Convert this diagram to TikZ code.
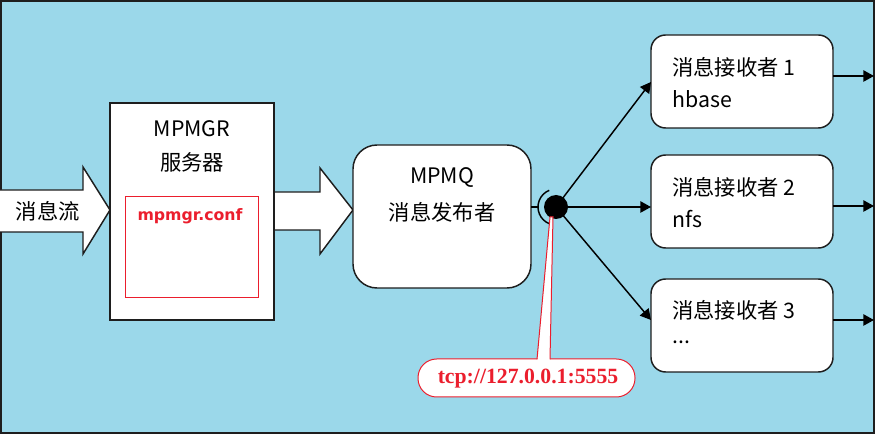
\documentclass[tikz,border=0pt]{standalone}
\usepackage{fontspec}
\setmainfont{Noto Sans CJK SC}
\newfontfamily\serifbold{Liberation Serif}
\newfontfamily\sansbold{DejaVu Sans}
\usetikzlibrary{arrows.meta,calc}
\definecolor{bg}{RGB}{155,216,234}
\definecolor{rd}{RGB}{235,30,45}
\definecolor{edge}{RGB}{30,30,30}
\begin{document}
\begin{tikzpicture}[x=0.75pt,y=-0.75pt,
  ol/.style={draw=edge,line width=1.1pt,fill=white},
  plainbox/.style={ol,inner sep=0pt,outer sep=0pt},
  rbox/.style={plainbox,rounded corners=11pt,minimum width=136.5pt,minimum height=69.75pt},
  txt/.style={font=\fontsize{16}{19}\selectfont,inner sep=0pt},
  conn/.style={draw=black,line width=1.1pt,-{Triangle[length=8pt,width=8.5pt]}},
]
\useasboundingbox (0,0) rectangle (875,434);
\fill[bg] (0,0) rectangle (875,434);
\draw[edge,line width=1.5pt] (1,1) rectangle (874,433);

% block arrows
\draw[ol,line join=miter] (-2,190) -- (83,190) -- (83,167) -- (110,210) -- (83,254) -- (83,232) -- (-2,232) -- cycle;
\node[txt] (flow) at (48,211) {消息流};
\draw[ol,line join=miter] (274,192) -- (320,192) -- (320,168) -- (353,210) -- (320,254) -- (320,230) -- (274,230);

% MPMGR
\node[plainbox,minimum width=123pt,minimum height=162.75pt] (mpmgr) at (192,211.5) {};
\node[txt] (mpmgrt) at (192,129) {MPMGR};
\node[txt] (mpmgrc) at (192,162) {服务器};
\node[draw=rd,line width=0.75pt,inner sep=0pt,minimum width=99.75pt,minimum height=75.75pt] (conf) at (191.5,247.5) {};
\node[inner sep=0pt,text=rd,font=\sansbold\bfseries\fontsize{11.8}{14}\selectfont] (conft) at (190,216) {mpmgr.conf};

% MPMQ
\node[plainbox,rounded corners=18pt,minimum width=133.5pt,minimum height=107.25pt] (mpmq) at (442,216.5) {};
\node[txt] (mpmqt) at (442,178) {MPMQ};
\node[txt] (mpmqc) at (442,212) {消息发布者};

% socket
\coordinate (sock) at (538,207);
\draw[line width=1.1pt] (mpmq.east |- sock) -- (sock);
\draw[line width=1.1pt] (556,207) ++(112:18) arc (112:248:18);

% receivers
\node[rbox] (r1) at (742,81.5) {};
\node[rbox] (r2) at (742,201.5) {};
\node[rbox] (r3) at (742,325.5) {};
\node[txt,anchor=west] (r1a) at (672,67) {消息接收者 1};
\node[txt,anchor=west] (r1b) at (672,99) {hbase};
\node[txt,anchor=west] (r2a) at (672,187) {消息接收者 2};
\node[txt,anchor=west] (r2b) at (672,219) {nfs};
\node[txt,anchor=west] (r3a) at (672,310) {消息接收者 3};
\node[txt,anchor=west] (r3b) at (672,342) {...};

\coordinate (hub) at (556,207);
\coordinate (in1) at (651,82);
\coordinate (in2) at (651,207);
\coordinate (in3) at (651,320);
\draw[conn] (hub) -- (in1);
\draw[conn] (hub) -- (in2);
\draw[conn] (hub) -- (in3);
\node[circle,fill=black,inner sep=0pt,minimum size=18pt] (dot) at (hub) {};

\coordinate (o1) at (874,76);
\coordinate (o2) at (874,206);
\coordinate (o3) at (874,320);
\draw[conn] (r1.east |- o1) -- (o1);
\draw[conn] (r2.east |- o2) -- (o2);
\draw[conn] (r3.east |- o3) -- (o3);

% callout
\draw[draw=rd,fill=white,line width=0.75pt,rounded corners=14pt] (418,359) rectangle (635,397);
\fill[white] (550,217) -- (553,217) -- (550,362) -- (537,362) -- cycle;
\draw[rd,line width=0.75pt] (537,359.4) -- (550,217) -- (553,217) -- (550,359.4);
\node[inner sep=0pt,text=rd,font=\serifbold\bfseries\fontsize{16.3}{18}\selectfont] (tcp) at (528,379) {tcp://127.0.0.1:5555};
\end{tikzpicture}
\end{document}
